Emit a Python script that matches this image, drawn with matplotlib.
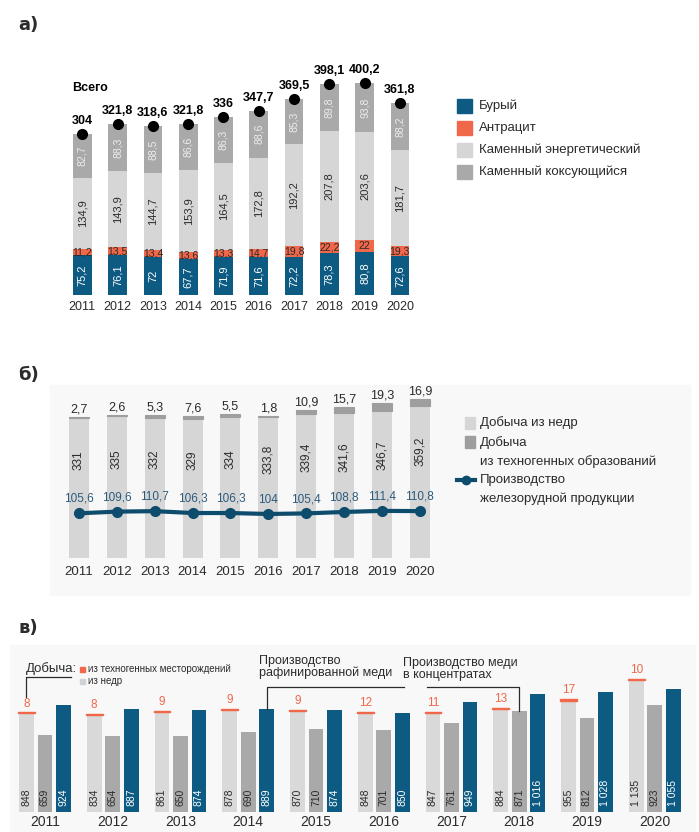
import numpy as np
import matplotlib.pyplot as plt
from matplotlib.patches import Rectangle
from matplotlib.lines import Line2D

# --- данные ---
years = [2011, 2012, 2013, 2014, 2015, 2016, 2017, 2018, 2019, 2020]

# а) добыча угля
brown = [75.2, 76.1, 72, 67.7, 71.9, 71.6, 72.2, 78.3, 80.8, 72.6]
anthracite = [11.2, 13.5, 13.4, 13.6, 13.3, 14.7, 19.8, 22.2, 22, 19.3]
steam = [134.9, 143.9, 144.7, 153.9, 164.5, 172.8, 192.2, 207.8, 203.6, 181.7]
coking = [82.7, 88.3, 88.5, 86.6, 86.3, 88.6, 85.3, 89.8, 93.8, 88.2]
total = [304, 321.8, 318.6, 321.8, 336, 347.7, 369.5, 398.1, 400.2, 361.8]

# б) железная руда
ore_nedra = [331, 335, 332, 329, 334, 333.8, 339.4, 341.6, 346.7, 359.2]
ore_techno = [2.7, 2.6, 5.3, 7.6, 5.5, 1.8, 10.9, 15.7, 19.3, 16.9]
iron_prod = [105.6, 109.6, 110.7, 106.3, 106.3, 104, 105.4, 108.8, 111.4, 110.8]

# в) медь
cu_nedra = [848, 834, 861, 878, 870, 848, 847, 884, 955, 1135]
cu_techno = [8, 8, 9, 9, 9, 12, 11, 13, 17, 10]
cu_conc = [659, 654, 650, 690, 710, 701, 761, 871, 812, 923]
cu_refined = [924, 887, 874, 889, 874, 850, 949, 1016, 1028, 1055]

BLUE = '#0d5a82'
RED = '#f0674a'
LIGHT = '#d6d6d6'
MID = '#a9a9a9'
TXT = '#2b2b2b'

plt.rcParams['font.family'] = ['Liberation Sans', 'DejaVu Sans']

W, H = 699, 832
fig = plt.figure(figsize=(W / 100, H / 100), dpi=100)


def px_axes(l, t, r, b):
    ax = fig.add_axes([l / W, 1 - b / H, (r - l) / W, (b - t) / H])
    ax.set_facecolor('none')
    for s in ax.spines.values():
        s.set_visible(False)
    ax.tick_params(length=0)
    ax.set_yticks([])
    return ax


def ftext(x, y, s, **kw):
    fig.text(x / W, 1 - y / H, s, **kw)


def fmt(v):
    s = ('%g' % v).replace('.', ',')
    if abs(v) >= 1000:
        s = '{:,}'.format(int(v)).replace(',', ' ')
    return s


def bg(l, t, r, b):
    fig.patches.append(Rectangle((l / W, 1 - b / H), (r - l) / W, (b - t) / H,
                                 transform=fig.transFigure, color='#f8f8f8', zorder=-10))


bg(50, 385, 690, 595)
bg(10, 645, 695, 832)

x = np.arange(len(years))

# ---------------- а) ----------------
ftext(18, 25, 'а)', fontsize=13, fontweight='bold', va='center', color=TXT, family='DejaVu Sans')
ax1 = px_axes(64, 60, 420, 295)
ax1.set_xlim(-0.52, 9.57)
ax1.set_ylim(0, 443)
w1 = 0.53
b1 = np.array(brown)
b2 = b1 + np.array(anthracite)
b3 = b2 + np.array(steam)
ax1.bar(x, brown, w1, color=BLUE)
ax1.bar(x, anthracite, w1, bottom=b1, color=RED)
ax1.bar(x, steam, w1, bottom=b2, color=LIGHT)
ax1.bar(x, coking, w1, bottom=b3, color=MID)
ax1.plot(x, total, 'o', color='black', ms=7, zorder=5)
for i in range(len(years)):
    ax1.text(x[i], brown[i] / 2, fmt(brown[i]), rotation=90, ha='center', va='center',
             color='white', fontsize=8)
    ax1.text(x[i], b1[i] + anthracite[i] / 2, fmt(anthracite[i]), ha='center', va='center',
             color=TXT, fontsize=7.5)
    ax1.text(x[i], b2[i] + steam[i] / 2, fmt(steam[i]), rotation=90, ha='center', va='center',
             color=TXT, fontsize=8)
    ax1.text(x[i], b3[i] + coking[i] / 2, fmt(coking[i]), rotation=90, ha='center', va='center',
             color='#ededed', fontsize=7.5)
    ax1.annotate(fmt(total[i]), (x[i], total[i]), xytext=(0, 5), textcoords='offset points',
                 ha='center', va='bottom', fontsize=9, fontweight='bold', color='black')
ax1.set_xticks(x)
ax1.set_xticklabels(years, fontsize=9, color=TXT)
ax1.tick_params(axis='x', pad=4)
ftext(72, 88, 'Всего', fontsize=9, fontweight='bold', va='center', color='black')

leg1 = [(BLUE, 'Бурый', 106), (RED, 'Антрацит', 128), (LIGHT, 'Каменный энергетический', 150),
        (MID, 'Каменный коксующийся', 172)]
for c, lab, yy in leg1:
    fig.patches.append(Rectangle((457 / W, 1 - (yy + 7) / H), 15 / W, 14 / H,
                                 transform=fig.transFigure, color=c))
    ftext(479, yy, lab, fontsize=9.5, va='center', color=TXT)

# ---------------- б) ----------------
ftext(18, 375, 'б)', fontsize=13, fontweight='bold', va='center', color=TXT, family='DejaVu Sans')
ax2 = px_axes(55, 390, 440, 558)
ax2.set_xlim(-0.63, 9.53)
ax2.set_ylim(0, 397)
w2 = 0.53
ax2.bar(x, ore_nedra, w2, color=LIGHT)
ax2.bar(x, ore_techno, w2, bottom=ore_nedra, color='#9e9e9e', edgecolor='#9e9e9e', lw=0.8)
ax2.plot(x, iron_prod, '-o', color='#0e4c6d', lw=3, ms=7, zorder=5)
for i in range(len(years)):
    top = ore_nedra[i] + ore_techno[i]
    ax2.annotate(fmt(ore_techno[i]), (x[i], top), xytext=(0, 1), textcoords='offset points',
                 ha='center', va='bottom', fontsize=9, color=TXT)
    ax2.text(x[i], ore_nedra[i] * 0.7, fmt(ore_nedra[i]), rotation=90, ha='center',
             va='center', fontsize=8.5, color=TXT)
    ax2.annotate(fmt(iron_prod[i]), (x[i], iron_prod[i]), xytext=(0, 6),
                 textcoords='offset points', ha='center', va='bottom', fontsize=8.5,
                 color='#2d5b7c')
ax2.set_xticks(x)
ax2.set_xticklabels(years, fontsize=9.5, color=TXT)
ax2.tick_params(axis='x', pad=6)

fig.patches.append(Rectangle((465 / W, 1 - 429 / H), 10 / W, 12 / H,
                             transform=fig.transFigure, color=LIGHT))
ftext(480, 423, 'Добыча из недр', fontsize=9.5, va='center', color=TXT)
fig.patches.append(Rectangle((465 / W, 1 - 448 / H), 10 / W, 12 / H,
                             transform=fig.transFigure, color='#9e9e9e'))
ftext(480, 443, 'Добыча', fontsize=9.5, va='center', color=TXT)
ftext(480, 462, 'из техногенных образований', fontsize=9.5, va='center', color=TXT)
fig.lines.append(Line2D([457 / W, 475 / W], [1 - 480 / H] * 2, transform=fig.transFigure,
                        color='#0e4c6d', lw=3))
fig.lines.append(Line2D([466 / W], [1 - 480 / H], transform=fig.transFigure,
                        color='#0e4c6d', marker='o', ms=6, lw=0))
ftext(480, 480, 'Производство', fontsize=9.5, va='center', color=TXT)
ftext(480, 499, 'железорудной продукции', fontsize=9.5, va='center', color=TXT)

# ---------------- в) ----------------
ftext(18, 628, 'в)', fontsize=13, fontweight='bold', va='center', color=TXT, family='DejaVu Sans')
ax3 = px_axes(10, 640, 692, 812)
ax3.set_xlim(-0.516, 9.55)
ax3.set_ylim(0, 1479)
w3 = 0.22
off = 0.273
ax3.bar(x - off, cu_nedra, w3, color='#d9d9d9')
ax3.bar(x - off, cu_techno, w3 + 0.03, bottom=cu_nedra, color=RED, edgecolor=RED, lw=1)
ax3.bar(x, cu_conc, w3, color=MID)
ax3.bar(x + off, cu_refined, w3, color=BLUE)
for i in range(len(years)):
    ax3.annotate(fmt(cu_techno[i]), (x[i] - off, cu_nedra[i] + cu_techno[i]), xytext=(0, 2),
                 textcoords='offset points', ha='center', va='bottom', fontsize=8.5,
                 color=RED)
    for xx, v, c in [(x[i] - off, cu_nedra[i], TXT), (x[i], cu_conc[i], TXT),
                     (x[i] + off, cu_refined[i], 'white')]:
        ax3.annotate(fmt(v), (xx, 0), xytext=(0, 4), textcoords='offset points',
                     rotation=90, ha='center', va='bottom', fontsize=7.5, color=c)
ax3.set_xticks(x)
ax3.set_xticklabels(years, fontsize=10, color=TXT)
ax3.tick_params(axis='x', pad=2)

# подписи-выноски
ftext(26, 669, 'Добыча:', fontsize=9.5, va='center', color=TXT)
ax3.plot([x[0] - off, x[0] - off, x[0] - off + 0.66], [990, 1160, 1160], color=TXT, lw=0.9,
         clip_on=False)
fig.patches.append(Rectangle((80 / W, 1 - 672 / H), 5 / W, 5 / H,
                             transform=fig.transFigure, color=RED))
fig.patches.append(Rectangle((80 / W, 1 - 684 / H), 5 / W, 5 / H,
                             transform=fig.transFigure, color='#cfd3d6'))
ftext(88, 669, 'из техногенных месторождений', fontsize=7, va='center', color=TXT)
ftext(88, 681, 'из недр', fontsize=7, va='center', color=TXT)

ftext(259, 667, 'Производство\nрафинированной меди', fontsize=9, va='center',
      color=TXT, linespacing=1.05)
ax3.plot([x[3] + off, x[3] + off, x[3] + off + 2.03], [cu_refined[3], 1075, 1075],
         color=TXT, lw=0.9, clip_on=False)

ftext(403, 669, 'Производство меди\nв концентратах', fontsize=9, va='center',
      color=TXT, linespacing=1.05)
ax3.plot([x[7] - 1.36, x[7], x[7]], [1075, 1075, cu_conc[7]], color=TXT, lw=0.9,
         clip_on=False)

fig.savefig('out.png', dpi=100, facecolor='white')
